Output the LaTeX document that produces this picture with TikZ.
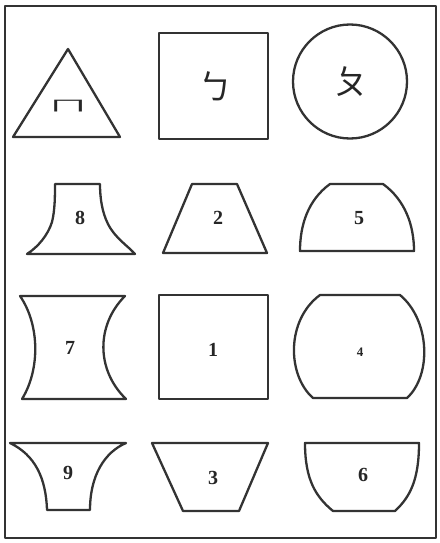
\documentclass[tikz,border=0pt]{standalone}
\usepackage{fontspec}
\setmainfont{Liberation Serif}
\newfontfamily\cjk{Noto Sans CJK SC}
\begin{document}
\begin{tikzpicture}[x=1pt,y=-1pt,
  shp/.style={draw=black!80,line width=2.3pt,line join=round},
  num/.style={font=\fontsize{20}{20}\selectfont\bfseries,text=black!85},
  zh/.style={font=\cjk\fontsize{34}{34}\selectfont,text=black!85}]
\useasboundingbox (0,0) rectangle (439,543);
\draw[shp] (5,6) rectangle (436,538);
% row 1
\draw[shp] (68,49) -- (120,137) -- (13,137) -- cycle;
\draw[shp] (159,33) rectangle (268,139);
\draw[shp] (350,81.5) circle (57);
\node[zh,xscale=1.1,yscale=0.45] (t1) at (68,106) {ㄇ};
\node[zh] (t2) at (215,86) {ㄅ};
\node[zh] (t3) at (351,82) {ㄆ};
% row 2
\draw[shp] (55,184) -- (100,184) .. controls (100,198) and (102,212) .. (108,224)
  .. controls (115,238) and (128,246) .. (135,254) -- (27,254)
  .. controls (38,247) and (48,235) .. (52,222) .. controls (55,210) and (55,195) .. cycle;
\draw[shp] (192,184) -- (237,184) -- (267,253) -- (163,253) -- cycle;
\draw[shp] (330,184) -- (383,184) .. controls (405,200) and (414,225) .. (414,251)
  -- (300,251) .. controls (300,225) and (308,200) .. cycle;
\node[num] (n8) at (80,218) {8};
\node[num] (n2) at (218,218) {2};
\node[num] (n5) at (359,218) {5};
% row 3
\draw[shp] (20,296) -- (125,296) .. controls (96,325) and (96,370) .. (126,399)
  -- (22,399) .. controls (40,370) and (40,325) .. cycle;
\draw[shp] (159,295) rectangle (268,399);
\draw[shp] (320,295) -- (400,295) .. controls (430,320) and (432,375) .. (407,398)
  -- (313,398) .. controls (287,375) and (286,320) .. cycle;
\node[num] (n7) at (70,348) {7};
\node[num] (n1) at (213,350) {1};
\node[num,font=\fontsize{13}{13}\selectfont\bfseries] (n4) at (360,352) {4};
% row 4
\draw[shp] (10,443) -- (126,443) .. controls (105,452) and (90,475) .. (90,510)
  -- (47,510) .. controls (46,478) and (35,455) .. cycle;
\draw[shp] (152,443) -- (268,443) -- (239,511) -- (183,511) -- cycle;
\draw[shp] (305,443) -- (419,443) .. controls (419,480) and (410,497) .. (395,511)
  -- (333,511) .. controls (316,497) and (305,480) .. cycle;
\node[num] (n9) at (68,473) {9};
\node[num] (n3) at (213,478) {3};
\node[num] (n6) at (363,475) {6};
\end{tikzpicture}
\end{document}
